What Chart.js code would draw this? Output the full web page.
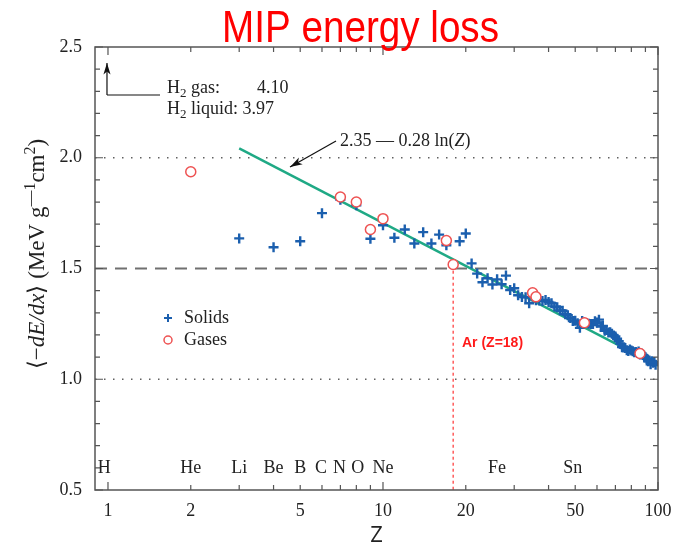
<!DOCTYPE html>
<html>
<head>
<meta charset="utf-8">
<title>MIP energy loss</title>
<script src="https://cdn.jsdelivr.net/npm/chart.js@4.4.1/dist/chart.umd.min.js"></script>
<style>
  html, body { margin: 0; padding: 0; background: #fff; }
  #wrap { position: relative; width: 685px; height: 549px; }
</style>
</head>
<body>
<div id="wrap"><canvas id="chart" width="685" height="549"></canvas></div>
<script>
// ---- values ----
const solidZ = [3, 4, 5, 6, 7, 8, 9, 10, 11, 12, 13, 14, 15, 16, 17, 19, 20, 21,
  22, 23, 24, 25, 26, 27, 28, 29, 30, 31, 32, 33, 34, 35, 36, 37, 38, 39, 40,
  41, 42, 43, 44, 45, 46, 47, 48, 49, 50, 51, 52, 53, 54, 55, 56, 57, 58, 59, 60,
  61, 62, 63, 64, 65, 66, 67, 68, 69, 70, 71, 72, 73, 74, 75, 76, 77, 78, 79, 80,
  81, 82, 83, 84, 85, 86, 87, 88, 89, 90, 91, 92, 93, 94, 95, 96, 97, 98];
const solidLoss = [1.636, 1.596, 1.623, 1.750, 1.810, 1.785, 1.634, 1.695, 1.639, 1.676,
  1.613, 1.664, 1.613, 1.653, 1.605, 1.623, 1.658, 1.523,
  1.477, 1.438, 1.456, 1.428, 1.451, 1.429, 1.468, 1.403, 1.411, 1.379, 1.371, 1.370,
  1.343, 1.385, 1.357, 1.356, 1.353, 1.358, 1.349,
  1.343, 1.329, 1.325, 1.311, 1.309, 1.294, 1.289, 1.277, 1.263, 1.264, 1.253, 1.232,
  1.263, 1.255, 1.254, 1.251, 1.250, 1.249, 1.262, 1.256,
  1.269, 1.238, 1.241, 1.219, 1.222, 1.211, 1.212, 1.205, 1.198, 1.193, 1.183, 1.172,
  1.160, 1.145, 1.143, 1.141, 1.131, 1.128, 1.134, 1.130,
  1.126, 1.122, 1.123, 1.118, 1.125, 1.112, 1.116, 1.109, 1.106, 1.098, 1.093, 1.081,
  1.085, 1.068, 1.081, 1.074, 1.078, 1.066];
const gasZ = [2, 7, 8, 9, 10, 17, 18, 35, 36, 54, 86];
const gasLoss = [1.937, 1.823, 1.800, 1.676, 1.725, 1.626, 1.518, 1.390, 1.372, 1.255, 1.116];

// fit 2.35 - 0.28 ln(Z), end points as drawn
const fitZ = [3, 100];
const fitLoss = [2.042, 1.061];

const refLevels = [2.0, 1.5, 1.0];
const argonZ = 18;
const argonTop = 1.49;

const elementNames = ['H', 'He', 'Li', 'Be', 'B', 'C', 'N', 'O', 'Ne', 'Fe', 'Sn'];
const elementZ = [0.97, 2, 3, 4, 5, 5.95, 6.95, 8.1, 10, 26, 49];
const elementRow = 0.6;

const xTicks = [1, 2, 5, 10, 20, 50, 100];
const yTicks = [0.5, 1.0, 1.5, 2.0, 2.5];
const xMin = 0.897, xMax = 100;
const yMin = 0.5, yMax = 2.5;

// ---- styling ----
const serif = "'Liberation Serif', 'Times New Roman', serif";
const sans = "'Liberation Sans', Arial, sans-serif";
const blue = '#1b5fae';
const red = '#ee5252';
const green = '#1fa985';

const toPoints = (xs, ys) => xs.map((v, i) => ({ x: v, y: ys[i] }));

const refSets = refLevels.map(lv => ({
  data: [{ x: xMin, y: lv }, { x: xMax, y: lv }],
  showLine: true,
  pointRadius: 0,
  borderColor: lv === 1.5 ? '#707070' : '#606060',
  borderWidth: lv === 1.5 ? 2 : 1.5,
  borderDash: lv === 1.5 ? [12, 8] : [1.5, 7.5],
  order: 5,
}));

// draws a run of text pieces with different fonts
function drawRuns(ctx, runs, x, y) {
  let cx = x;
  for (const [txt, font, dy] of runs) {
    ctx.font = font;
    ctx.fillText(txt, cx, y + (dy || 0));
    cx += ctx.measureText(txt).width;
  }
  return cx - x;
}
function runsWidth(ctx, runs) {
  let w = 0;
  for (const [txt, font] of runs) { ctx.font = font; w += ctx.measureText(txt).width; }
  return w;
}
function arrow(ctx, x1, y1, x2, y2, head) {
  ctx.beginPath(); ctx.moveTo(x1, y1); ctx.lineTo(x2, y2); ctx.stroke();
  const ang = Math.atan2(y2 - y1, x2 - x1);
  ctx.beginPath();
  ctx.moveTo(x2, y2);
  ctx.lineTo(x2 - head * Math.cos(ang - 0.3), y2 - head * Math.sin(ang - 0.3));
  ctx.lineTo(x2 - head * 0.7 * Math.cos(ang), y2 - head * 0.7 * Math.sin(ang));
  ctx.lineTo(x2 - head * Math.cos(ang + 0.3), y2 - head * Math.sin(ang + 0.3));
  ctx.closePath(); ctx.fill();
}

const decor = {
  id: 'decor',
  afterDraw(chart) {
    const { ctx, chartArea: a, scales: { x, y } } = chart;
    ctx.save();

    // frame and inward ticks on all sides
    ctx.strokeStyle = '#555';
    ctx.lineWidth = 1.5;
    ctx.strokeRect(a.left, a.top, a.right - a.left, a.bottom - a.top);
    ctx.lineWidth = 1.2;
    ctx.beginPath();
    for (let d = 1; d <= 100; d *= 10) {
      for (let m = 1; m < 10; m++) {
        const v = m * d;
        if (v < xMin || v > xMax) continue;
        const px = x.getPixelForValue(v);
        const len = m === 1 ? 8 : 5;
        ctx.moveTo(px, a.bottom); ctx.lineTo(px, a.bottom - len);
        ctx.moveTo(px, a.top); ctx.lineTo(px, a.top + len);
      }
    }
    for (let i = 5; i <= 25; i++) {
      const py = y.getPixelForValue(i / 10);
      const len = i % 5 === 0 ? 8 : 5;
      ctx.moveTo(a.left, py); ctx.lineTo(a.left + len, py);
      ctx.moveTo(a.right, py); ctx.lineTo(a.right - len, py);
    }
    ctx.stroke();

    // title
    ctx.fillStyle = '#ff0000';
    ctx.font = "44px " + sans;
    ctx.textBaseline = 'alphabetic';
    const tw = ctx.measureText('MIP energy loss').width;
    ctx.save();
    ctx.translate(360.5, 41.5);
    ctx.scale(277 / tw, 1);
    ctx.textAlign = 'center';
    ctx.fillText('MIP energy loss', 0, 0);
    ctx.restore();

    // y axis label (rotated, mixed fonts)
    ctx.fillStyle = '#222';
    ctx.textAlign = 'left';
    ctx.textBaseline = 'alphabetic';
    const f = "18px " + serif, fi = "italic 18px " + serif, fs = "13px " + serif;
    const g = "23px " + serif, gi = "italic 23px " + serif, gs = "16px " + serif;
    const yRuns = [['⟨−', g], ['dE/dx', gi], ['⟩ (MeV g', g], ['—1', gs, -9],
      ['cm', g], ['2', gs, -9], [')', g]];
    ctx.save();
    ctx.translate(44, 254);
    ctx.rotate(-Math.PI / 2);
    drawRuns(ctx, yRuns, -runsWidth(ctx, yRuns) / 2, 0);
    ctx.restore();

    // element names along the bottom
    ctx.font = "18px " + serif;
    ctx.textAlign = 'center';
    ctx.textBaseline = 'middle';
    const ey = y.getPixelForValue(elementRow);
    elementNames.forEach((n, i) => ctx.fillText(n, x.getPixelForValue(elementZ[i]), ey));
    ctx.textAlign = 'left';
    ctx.textBaseline = 'alphabetic';

    // H2 note with arrow
    ctx.strokeStyle = '#111';
    ctx.fillStyle = '#111';
    ctx.lineWidth = 1.2;
    const hx = x.getPixelForValue(1) - 1;
    ctx.beginPath(); ctx.moveTo(160, 95); ctx.lineTo(hx, 95); ctx.stroke();
    arrow(ctx, hx, 95, hx, 63, 12);
    ctx.fillStyle = '#222';
    drawRuns(ctx, [['H', f], ['2', fs, 4], [' gas:', f]], 167, 93);
    ctx.font = f; ctx.fillText('4.10', 257, 93);
    drawRuns(ctx, [['H', f], ['2', fs, 4], [' liquid: 3.97', f]], 167, 114);

    // fit formula with arrow
    drawRuns(ctx, [['2.35 — 0.28 ln(', f], ['Z', fi], [')', f]], 340, 146);
    ctx.fillStyle = '#111';
    arrow(ctx, 336, 141, 290, 167, 13);

    // argon label
    ctx.fillStyle = '#ff1a1a';
    ctx.font = "bold 14px " + sans;
    ctx.textBaseline = 'middle';
    ctx.fillText('Ar (Z=18)', 462, 343);

    // legend
    ctx.strokeStyle = blue; ctx.lineWidth = 2;
    ctx.beginPath();
    ctx.moveTo(164, 318); ctx.lineTo(172, 318);
    ctx.moveTo(168, 314); ctx.lineTo(168, 322);
    ctx.stroke();
    ctx.strokeStyle = red; ctx.lineWidth = 1.5;
    ctx.beginPath(); ctx.arc(168, 340, 4, 0, Math.PI * 2); ctx.stroke();
    ctx.fillStyle = '#222';
    ctx.font = "18px " + serif;
    ctx.fillText('Solids', 184, 318);
    ctx.fillText('Gases', 184, 340);

    ctx.restore();
  },
};

new Chart(document.getElementById('chart'), {
  type: 'scatter',
  data: {
    datasets: [
      {
        label: 'Gases',
        data: toPoints(gasZ, gasLoss),
        pointStyle: 'circle',
        pointRadius: 5,
        pointBorderWidth: 1.5,
        pointBorderColor: red,
        pointBackgroundColor: '#fff',
        order: 0,
      },
      {
        label: 'Solids',
        data: toPoints(solidZ, solidLoss),
        pointStyle: 'cross',
        pointRadius: 5,
        pointBorderWidth: 2.4,
        pointBorderColor: blue,
        order: 1,
      },
      {
        label: 'fit',
        data: toPoints(fitZ, fitLoss),
        showLine: true,
        pointRadius: 0,
        borderColor: green,
        borderWidth: 2.5,
        order: 2,
      },
      {
        label: 'Ar',
        data: [{ x: argonZ, y: argonTop }, { x: argonZ, y: yMin }],
        showLine: true,
        pointRadius: 0,
        borderColor: '#ff5c5c',
        borderWidth: 1.5,
        borderDash: [3, 3],
        order: 4,
      },
      ...refSets,
    ],
  },
  options: {
    responsive: false,
    animation: false,
    devicePixelRatio: 1,
    layout: { padding: { top: 47, right: 27, left: 0, bottom: 0 } },
    plugins: {
      legend: { display: false },
      tooltip: { enabled: false },
    },
    scales: {
      x: {
        type: 'logarithmic',
        min: xMin,
        max: xMax,
        afterBuildTicks: s => { s.ticks = xTicks.map(v => ({ value: v })); },
        afterFit: s => { s.height = 59; },
        grid: { display: false },
        border: { display: false },
        ticks: {
          autoSkip: false,
          maxRotation: 0,
          padding: 2,
          color: '#222',
          font: { family: serif, size: 18 },
          callback: v => String(v),
        },
        title: {
          display: true,
          text: 'Z',
          color: '#222',
          font: { family: "'Open Sans', sans-serif", size: 22 },
          padding: { top: 0, bottom: 0 },
        },
      },
      y: {
        min: yMin,
        max: yMax,
        afterBuildTicks: s => { s.ticks = yTicks.map(v => ({ value: v })); },
        afterFit: s => { s.width = 95; },
        grid: { display: false },
        border: { display: false },
        ticks: {
          padding: 5,
          color: '#222',
          font: { family: serif, size: 18 },
          callback: v => v.toFixed(1),
        },
      },
    },
  },
  plugins: [decor],
});
</script>
</body>
</html>
